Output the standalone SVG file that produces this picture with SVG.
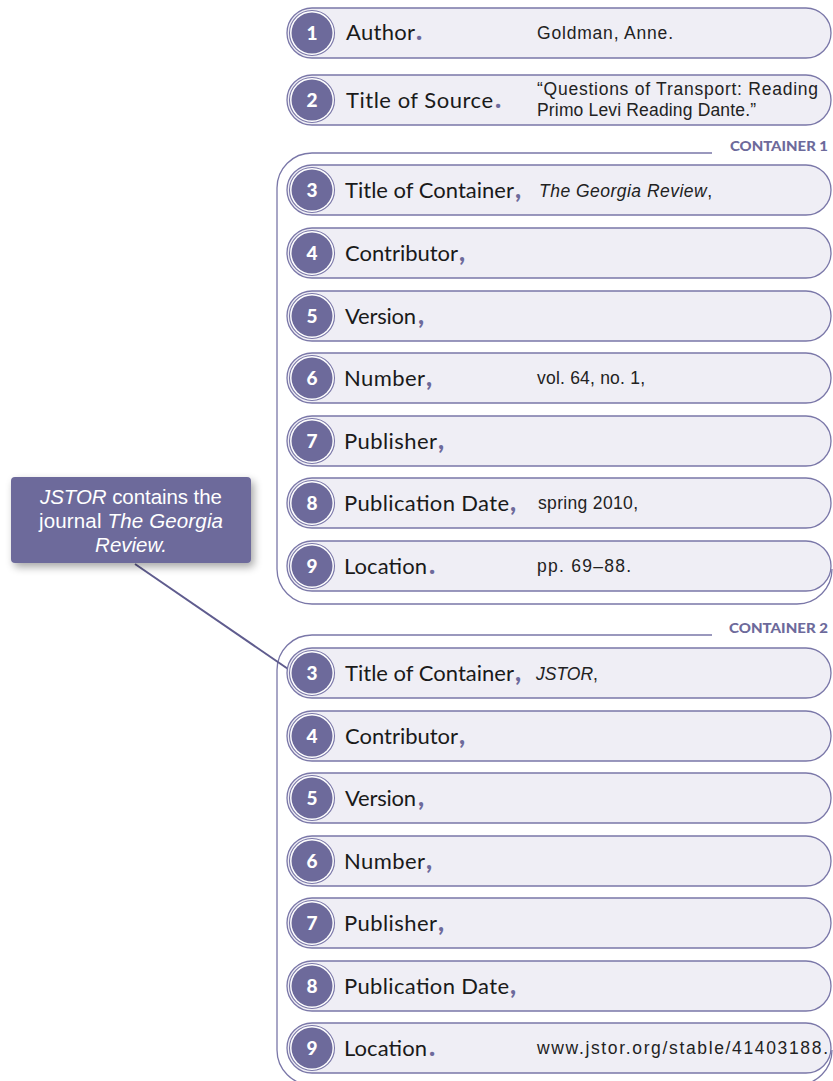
<svg xmlns="http://www.w3.org/2000/svg" width="833" height="1081" viewBox="0 0 833 1081">
<defs>
<style>
.pill{fill:#efeef5;stroke:#7a77a8;stroke-width:1.3}
.ring{fill:#ffffff;stroke:#7a77a8;stroke-width:1.1}
.dot{fill:#6d6a9b}
.num{font-family:Lato,"Liberation Sans",sans-serif;font-weight:900;font-size:19px;fill:#ffffff;text-anchor:middle}
.lbl{font-family:Lato,"Liberation Sans",sans-serif;font-size:22px;fill:#1a1a1a}
.p{font-family:Lato,"Liberation Sans",sans-serif;fill:#6d6a9b;font-weight:900;font-size:26px}
.val{font-family:"Liberation Sans",Arial,sans-serif;font-size:17.5px;fill:#222222}
.it{font-style:italic}
.cont{fill:none;stroke:#7a77a8;stroke-width:1.3}
.chead{font-family:Lato,"Liberation Sans",sans-serif;font-weight:900;font-size:14px;fill:#6d6a9b}
.call{font-family:"Liberation Sans",Arial,sans-serif;font-size:20.5px;fill:#ffffff;text-anchor:middle}
</style>
<filter id="sh" x="-20%" y="-20%" width="150%" height="160%">
<feGaussianBlur in="SourceAlpha" stdDeviation="4"/>
<feOffset dx="3" dy="4"/>
<feComponentTransfer><feFuncA type="linear" slope="0.35"/></feComponentTransfer>
<feMerge><feMergeNode/><feMergeNode in="SourceGraphic"/></feMerge>
</filter>
<g id="badge">
<circle r="22.5" class="ring"/>
<circle r="20.5" class="dot"/>
</g>
</defs>
<rect width="833" height="1081" fill="#ffffff"/>

<g id="containers">
<path class="cont" d="M712,153 H312 A35,35 0 0 0 277,188 V569 A35,35 0 0 0 312,604 H797 A35,35 0 0 0 832,569"/>
<text class="chead" x="730" y="151" textLength="98" lengthAdjust="spacingAndGlyphs">CONTAINER 1</text>
<path class="cont" d="M712,635 H312 A35,35 0 0 0 277,670 V1050 A35,35 0 0 0 312,1085 H797 A35,35 0 0 0 832,1050"/>
<text class="chead" x="729" y="633" textLength="99" lengthAdjust="spacingAndGlyphs">CONTAINER 2</text>
</g>

<g id="connectors">
<line x1="135" y1="564" x2="291" y2="671" stroke="#5f5c8e" stroke-width="2"/>
</g>

<g id="callout">
<rect x="11" y="477" width="240" height="86" rx="4" fill="#6d6a9b" filter="url(#sh)"/>
<text class="call" x="131" y="504" textLength="182"><tspan class="it">JSTOR</tspan> contains the</text>
<text class="call" x="131" y="528" textLength="184">journal <tspan class="it">The Georgia</tspan></text>
<text class="call" x="131" y="552"><tspan class="it">Review.</tspan></text>
</g>

<g id="row1">
<rect class="pill" x="287" y="8" width="544" height="50" rx="25"/>
<use href="#badge" x="312" y="33"/>
<text class="num" x="312" y="40">1</text>
<text class="lbl" x="346" y="40" textLength="69">Author</text><text class="p" x="416" y="40">.</text>
<text class="val" x="537" y="39" textLength="136">Goldman, Anne.</text>
</g>

<g id="row2">
<rect class="pill" x="287" y="75" width="544" height="50" rx="25"/>
<use href="#badge" x="312" y="100"/>
<text class="num" x="312" y="107">2</text>
<text class="lbl" x="346" y="108" textLength="147">Title of Source</text><text class="p" x="495" y="108">.</text>
<text class="val" x="537" y="95" textLength="281">“Questions of Transport: Reading</text>
<text class="val" x="537" y="116" textLength="219">Primo Levi Reading Dante.”</text>
</g>

<g id="c1-3">
<rect class="pill" x="287" y="165" width="544" height="50" rx="25"/>
<use href="#badge" x="312" y="190"/>
<text class="num" x="312" y="197">3</text>
<text class="lbl" x="345" y="198" textLength="169">Title of Container</text><text class="p" x="515" y="198">,</text>
<text class="val it" x="539" y="197" textLength="173"><tspan>The Georgia Review</tspan><tspan font-style="normal">,</tspan></text>
</g>
<g id="c1-4">
<rect class="pill" x="287" y="228" width="544" height="50" rx="25"/>
<use href="#badge" x="312" y="253"/>
<text class="num" x="312" y="260">4</text>
<text class="lbl" x="345" y="261" textLength="113">Contributor</text><text class="p" x="459" y="261">,</text>
</g>
<g id="c1-5">
<rect class="pill" x="287" y="291" width="544" height="50" rx="25"/>
<use href="#badge" x="312" y="316"/>
<text class="num" x="312" y="323">5</text>
<text class="lbl" x="345" y="324" textLength="71">Version</text><text class="p" x="418" y="324">,</text>
</g>
<g id="c1-6">
<rect class="pill" x="287" y="353" width="544" height="50" rx="25"/>
<use href="#badge" x="312" y="378"/>
<text class="num" x="312" y="385">6</text>
<text class="lbl" x="344" y="386" textLength="81">Number</text><text class="p" x="426" y="386">,</text>
<text class="val" x="537" y="384" textLength="108">vol. 64, no. 1,</text>
</g>
<g id="c1-7">
<rect class="pill" x="287" y="416" width="544" height="50" rx="25"/>
<use href="#badge" x="312" y="441"/>
<text class="num" x="312" y="448">7</text>
<text class="lbl" x="344" y="449" textLength="93">Publisher</text><text class="p" x="438" y="449">,</text>
</g>
<g id="c1-8">
<rect class="pill" x="287" y="478" width="544" height="50" rx="25"/>
<use href="#badge" x="312" y="503"/>
<text class="num" x="312" y="510">8</text>
<text class="lbl" x="344" y="511" textLength="165">Publication Date</text><text class="p" x="510" y="511">,</text>
<text class="val" x="538" y="509" textLength="100">spring 2010,</text>
</g>
<g id="c1-9">
<rect class="pill" x="287" y="541" width="544" height="50" rx="25"/>
<use href="#badge" x="312" y="566"/>
<text class="num" x="312" y="573">9</text>
<text class="lbl" x="344" y="574" textLength="83">Location</text><text class="p" x="429" y="574">.</text>
<text class="val" x="537" y="572" textLength="94">pp. 69–88.</text>
</g>

<g id="c2-3">
<rect class="pill" x="287" y="648" width="544" height="50" rx="25"/>
<use href="#badge" x="312" y="673"/>
<text class="num" x="312" y="680">3</text>
<text class="lbl" x="345" y="681" textLength="169">Title of Container</text><text class="p" x="515" y="681">,</text>
<text class="val it" x="536" y="680" font-size="15.5"><tspan>JSTOR</tspan><tspan font-style="normal">,</tspan></text>
</g>
<g id="c2-4">
<rect class="pill" x="287" y="711" width="544" height="50" rx="25"/>
<use href="#badge" x="312" y="736"/>
<text class="num" x="312" y="743">4</text>
<text class="lbl" x="345" y="744" textLength="113">Contributor</text><text class="p" x="459" y="744">,</text>
</g>
<g id="c2-5">
<rect class="pill" x="287" y="773" width="544" height="50" rx="25"/>
<use href="#badge" x="312" y="798"/>
<text class="num" x="312" y="805">5</text>
<text class="lbl" x="345" y="806" textLength="71">Version</text><text class="p" x="418" y="806">,</text>
</g>
<g id="c2-6">
<rect class="pill" x="287" y="836" width="544" height="50" rx="25"/>
<use href="#badge" x="312" y="861"/>
<text class="num" x="312" y="868">6</text>
<text class="lbl" x="344" y="869" textLength="81">Number</text><text class="p" x="426" y="869">,</text>
</g>
<g id="c2-7">
<rect class="pill" x="287" y="898" width="544" height="50" rx="25"/>
<use href="#badge" x="312" y="923"/>
<text class="num" x="312" y="930">7</text>
<text class="lbl" x="344" y="931" textLength="93">Publisher</text><text class="p" x="438" y="931">,</text>
</g>
<g id="c2-8">
<rect class="pill" x="287" y="961" width="544" height="50" rx="25"/>
<use href="#badge" x="312" y="986"/>
<text class="num" x="312" y="993">8</text>
<text class="lbl" x="344" y="994" textLength="165">Publication Date</text><text class="p" x="510" y="994">,</text>
</g>
<g id="c2-9">
<rect class="pill" x="287" y="1023" width="544" height="50" rx="25"/>
<use href="#badge" x="312" y="1048"/>
<text class="num" x="312" y="1055">9</text>
<text class="lbl" x="344" y="1056" textLength="83">Location</text><text class="p" x="429" y="1056">.</text>
<text class="val" x="537" y="1054" textLength="291">www.jstor.org/stable/41403188.</text>
</g>
</svg>
